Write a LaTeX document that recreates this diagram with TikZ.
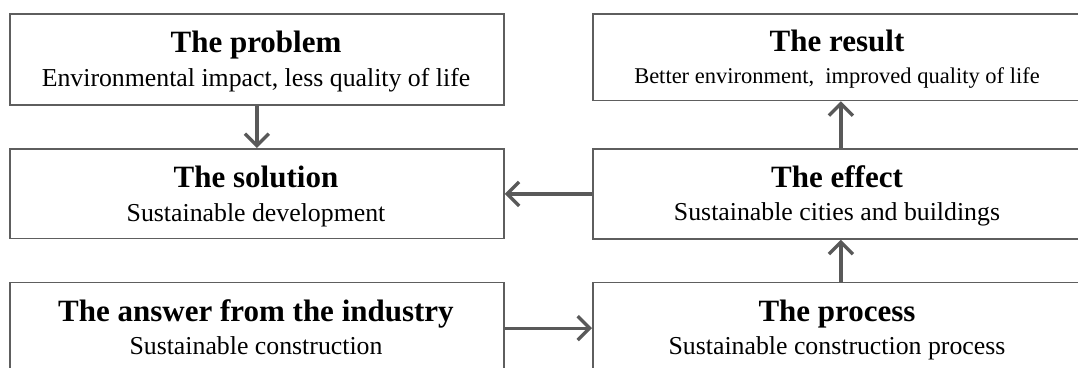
\documentclass[tikz,border=0pt]{standalone}
\usepackage{fontspec}
\setmainfont{Liberation Serif}
\usetikzlibrary{arrows.meta}
\definecolor{boxgray}{HTML}{5E5E5E}
\definecolor{arrgray}{HTML}{595959}
\begin{document}
\begin{tikzpicture}[x=1pt,y=-1pt,
  box/.style={draw=boxgray,line width=1.8pt,rectangle,inner sep=0pt,anchor=north west},
  ttl/.style={anchor=base,inner sep=0pt,font=\fontsize{31}{36}\selectfont\bfseries},
  sub/.style={anchor=base,inner sep=0pt,font=\fontsize{25.8}{30}\selectfont},
  subsm/.style={anchor=base,inner sep=0pt,font=\fontsize{22.5}{27}\selectfont},
  conn/.style={draw=arrgray,line width=3.3pt,-{Straight Barb[length=12pt,width=24pt]}}]
\useasboundingbox (0,0) rectangle (1078,367);
\clip (0,0) rectangle (1078,367);
% boxes
\node[box,minimum width=494pt,minimum height=91pt] (prob) at (9,13) {};
\node[box,minimum width=490pt,minimum height=86.5pt] (res) at (592,13) {};
\node[box,minimum width=494pt,minimum height=89.5pt] (sol) at (9,148) {};
\node[box,minimum width=490pt,minimum height=90pt] (eff) at (592,148) {};
\node[box,minimum width=494pt,minimum height=91.5pt] (ans) at (9,281.5) {};
\node[box,minimum width=490pt,minimum height=91.5pt] (proc) at (592,281.5) {};
% texts
\node[ttl] (probT) at (256,52) {The problem};
\node[sub] (probS) at (256,86) {Environmental impact, less quality of life};
\node[ttl] (resT) at (837,51.7) {The result};
\node[subsm] (resS) at (837,83.3) {Better environment, \ improved quality of life};
\node[ttl] (solT) at (256,187) {The solution};
\node[sub] (solS) at (256,221) {Sustainable development};
\node[ttl] (effT) at (837,187) {The effect};
\node[sub] (effS) at (837,220) {Sustainable cities and buildings};
\node[ttl] (ansT) at (256,321) {The answer from the industry};
\node[sub] (ansS) at (256,354) {Sustainable construction};
\node[ttl] (procT) at (837,321) {The process};
\node[sub] (procS) at (837,354) {Sustainable construction process};
% connectors
\draw[conn] (prob.south) -- (sol.north);
\draw[conn] (eff.west) -- (eff.west -| sol.east);
\draw[conn] (ans.east) -- (ans.east -| proc.west);
\draw[conn] ([xshift=3pt]proc.north) -- ([xshift=3pt]eff.south);
\draw[conn] ([xshift=3pt]eff.north) -- ([xshift=3pt]res.south);
\end{tikzpicture}
\end{document}
